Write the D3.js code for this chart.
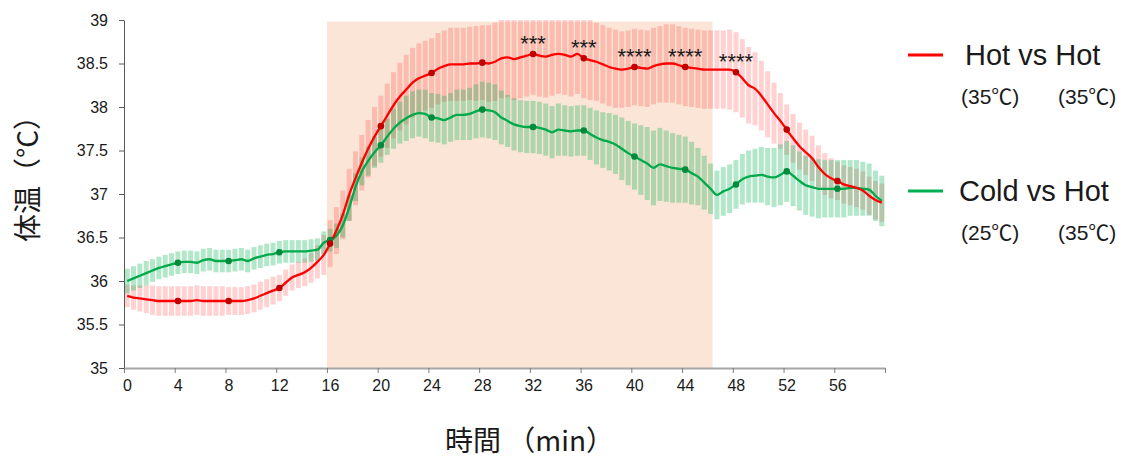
<!DOCTYPE html>
<html>
<head>
<meta charset="utf-8">
<script src="https://cdn.jsdelivr.net/npm/d3@7"></script>
<style>
  body { margin: 0; background: #fff; }
  svg text { font-family: "Liberation Sans", Arial, "Noto Sans CJK JP", sans-serif; fill: #1a1a1a; }
  .cjk { font-family: "Noto Sans CJK JP", "Liberation Sans", sans-serif; }
</style>
</head>
<body>
<svg id="chart"></svg>
<script>
// 30 s bins, first bin centred at 0.25 min
var binStart = 0.25;
var binStep = 0.5;

// Hot vs Hot (35°C / 35°C) mean body temperature, °C
var hotMean = [
    35.83, 35.81, 35.80, 35.79, 35.78, 35.77, 35.77, 35.77, 35.77, 35.77,
    35.77, 35.78, 35.77, 35.77, 35.77, 35.77, 35.77, 35.77, 35.77, 35.78,
    35.80, 35.83, 35.86, 35.89, 35.92, 35.98, 36.04, 36.07, 36.10, 36.15,
    36.22, 36.30, 36.43, 36.58, 36.76, 36.99, 37.18, 37.36, 37.52, 37.66,
    37.78, 37.90, 38.02, 38.12, 38.20, 38.28, 38.33, 38.36, 38.39, 38.44,
    38.47, 38.49, 38.49, 38.49, 38.50, 38.50, 38.51, 38.50, 38.52, 38.56,
    38.57, 38.55, 38.57, 38.59, 38.61, 38.59, 38.58, 38.60, 38.61, 38.60,
    38.58, 38.61, 38.56, 38.54, 38.52, 38.49, 38.46, 38.44, 38.43, 38.44,
    38.46, 38.45, 38.44, 38.47, 38.49, 38.50, 38.50, 38.48, 38.46, 38.45,
    38.44, 38.43, 38.43, 38.43, 38.43, 38.43, 38.40, 38.33, 38.25, 38.21,
    38.13, 38.03, 37.93, 37.84, 37.74, 37.64, 37.55, 37.48, 37.41, 37.31,
    37.23, 37.18, 37.15, 37.11, 37.09, 37.07, 37.04, 36.98, 36.93, 36.90
];
var hotErr = [
    0.13, 0.14, 0.15, 0.16, 0.17, 0.17, 0.17, 0.17, 0.17, 0.17,
    0.17, 0.17, 0.17, 0.17, 0.17, 0.17, 0.16, 0.16, 0.16, 0.16,
    0.16, 0.16, 0.16, 0.16, 0.15, 0.15, 0.15, 0.15, 0.16, 0.17,
    0.19, 0.23, 0.27, 0.27, 0.28, 0.30, 0.31, 0.32, 0.33, 0.34,
    0.35, 0.37, 0.38, 0.39, 0.40, 0.40, 0.40, 0.40, 0.40, 0.41,
    0.41, 0.42, 0.42, 0.42, 0.42, 0.43, 0.43, 0.44, 0.45, 0.46,
    0.46, 0.47, 0.47, 0.47, 0.47, 0.47, 0.47, 0.47, 0.46, 0.46,
    0.46, 0.46, 0.46, 0.46, 0.45, 0.45, 0.45, 0.45, 0.44, 0.44,
    0.44, 0.44, 0.44, 0.44, 0.44, 0.45, 0.45, 0.45, 0.45, 0.45,
    0.45, 0.45, 0.45, 0.45, 0.45, 0.46, 0.46, 0.45, 0.44, 0.42,
    0.40, 0.38, 0.35, 0.32, 0.29, 0.28, 0.27, 0.26, 0.26, 0.25,
    0.24, 0.23, 0.22, 0.22, 0.22, 0.22, 0.22, 0.22, 0.22, 0.22
];

// Cold vs Hot (25°C / 35°C)
var coldMean = [
    36.00, 36.03, 36.06, 36.09, 36.12, 36.15, 36.17, 36.19, 36.21, 36.22,
    36.22, 36.21, 36.24, 36.25, 36.23, 36.23, 36.23, 36.24, 36.25, 36.23,
    36.26, 36.28, 36.30, 36.31, 36.33, 36.34, 36.34, 36.34, 36.34, 36.35,
    36.36, 36.44, 36.47, 36.52, 36.64, 36.84, 37.08, 37.26, 37.38, 37.48,
    37.56, 37.66, 37.75, 37.82, 37.87, 37.91, 37.93, 37.92, 37.88, 37.87,
    37.85, 37.88, 37.91, 37.91, 37.92, 37.95, 37.97, 37.96, 37.94, 37.88,
    37.84, 37.80, 37.78, 37.77, 37.77, 37.76, 37.74, 37.71, 37.74, 37.73,
    37.72, 37.73, 37.73, 37.69, 37.65, 37.62, 37.60, 37.57, 37.52, 37.47,
    37.43, 37.39, 37.35, 37.30, 37.34, 37.32, 37.30, 37.29, 37.28, 37.24,
    37.20, 37.13, 37.06, 36.99, 37.03, 37.06, 37.11, 37.17, 37.20, 37.21,
    37.22, 37.20, 37.19, 37.22, 37.26, 37.21, 37.15, 37.10, 37.08, 37.06,
    37.06, 37.06, 37.06, 37.06, 37.07, 37.07, 37.06, 37.05, 36.98, 36.92
];
var coldErr = [
    0.14, 0.14, 0.14, 0.14, 0.13, 0.13, 0.13, 0.13, 0.13, 0.13,
    0.13, 0.13, 0.13, 0.13, 0.13, 0.13, 0.13, 0.13, 0.13, 0.13,
    0.13, 0.13, 0.13, 0.13, 0.13, 0.13, 0.13, 0.13, 0.13, 0.13,
    0.13, 0.13, 0.13, 0.14, 0.14, 0.15, 0.16, 0.16, 0.17, 0.18,
    0.20, 0.21, 0.23, 0.24, 0.26, 0.27, 0.27, 0.28, 0.28, 0.28,
    0.28, 0.28, 0.29, 0.29, 0.30, 0.31, 0.32, 0.32, 0.32, 0.31,
    0.30, 0.30, 0.30, 0.30, 0.30, 0.30, 0.30, 0.30, 0.30, 0.29,
    0.29, 0.29, 0.29, 0.30, 0.31, 0.32, 0.33, 0.34, 0.36, 0.37,
    0.38, 0.40, 0.42, 0.43, 0.42, 0.41, 0.40, 0.39, 0.38, 0.36,
    0.33, 0.31, 0.29, 0.28, 0.28, 0.28, 0.28, 0.29, 0.30, 0.31,
    0.32, 0.33, 0.34, 0.35, 0.35, 0.35, 0.34, 0.34, 0.34, 0.34,
    0.33, 0.33, 0.33, 0.33, 0.32, 0.32, 0.31, 0.30, 0.29, 0.29
];

// shaded heating period, minutes
var shadeFrom = 16;
var shadeTo = 46.4;

// significance marks (time of marked bin, label)
var starTimes = [32.25, 36.25, 40.25, 44.25, 48.25];
var starLabels = ["***", "***", "****", "****", "****"];

var xTicks = [0, 4, 8, 12, 16, 20, 24, 28, 32, 36, 40, 44, 48, 52, 56, 60];
var yTicks = [35, 35.5, 36, 36.5, 37, 37.5, 38, 38.5, 39];

var legendItems = [
    { name: "Hot vs Hot", sub: ["(35\u2103)", "(35\u2103)"], color: "#ff0000" },
    { name: "Cold vs Hot", sub: ["(25\u2103)", "(35\u2103)"], color: "#00b050" }
];

var width = 1129;
var height = 459;

var svg = d3.select('#chart').attr('width', width).attr('height', height);

var x = d3.scaleLinear().domain([0, 60]).range([124, 885]);
var y = d3.scaleLinear().domain([35, 39]).range([368, 20]).clamp(true);

function binTime(i) {
    return binStart + i * binStep;
}

// shaded background
svg.append('rect')
    .attr('x', x(shadeFrom))
    .attr('y', y(38.98))
    .attr('width', x(shadeTo) - x(shadeFrom))
    .attr('height', y(35) - y(38.98))
    .attr('fill', '#fbe5d6');

function drawBars(mean, err, color, opacity) {
    svg.append('g').selectAll('rect')
        .data(mean)
        .enter()
        .append('rect')
        .attr('x', function(d, i) { return x(binTime(i)) - 2.5; })
        .attr('y', function(d, i) { return y(d + err[i]); })
        .attr('width', 5)
        .attr('height', function(d, i) { return y(d - err[i]) - y(d + err[i]); })
        .attr('fill', color)
        .attr('fill-opacity', opacity);
}

drawBars(hotMean, hotErr, '#ff0000', 0.18);
drawBars(coldMean, coldErr, '#00b050', 0.3);

// axes
var yAxis = d3.axisLeft(y).tickValues(yTicks).tickSize(5).tickSizeOuter(0).tickPadding(11)
    .tickFormat(function(d) { return d3.format('')(d); });
var yg = svg.append('g').attr('transform', 'translate(124,0)').call(yAxis);
yg.select('.domain').attr('stroke', '#595959');
yg.selectAll('.tick line').attr('stroke', '#595959');
yg.selectAll('text').style('font-size', '16px').attr('fill', '#1a1a1a');

var xAxis = d3.axisBottom(x).tickValues(xTicks).tickSize(5).tickSizeOuter(0).tickPadding(7)
    .tickFormat(function(d) { return d === 60 ? '' : d; });
var xg = svg.append('g').attr('transform', 'translate(0,368)').call(xAxis);
xg.select('.domain').attr('stroke', '#a6a6a6').attr('stroke-width', 2);
xg.selectAll('.tick line').attr('stroke', '#7f7f7f');
xg.selectAll('text').style('font-size', '16px').attr('dx', 3).attr('fill', '#1a1a1a');

// mean lines
var line = function(mean) {
    return d3.line()
        .x(function(d, i) { return x(binTime(i)); })
        .y(function(d) { return y(d); })
        .curve(d3.curveMonotoneX)(mean);
};

svg.append('path').attr('d', line(coldMean))
    .attr('fill', 'none').attr('stroke', '#00a94a').attr('stroke-width', 2.3);
svg.append('path').attr('d', line(hotMean))
    .attr('fill', 'none').attr('stroke', '#ff0000').attr('stroke-width', 2.3);

// markers every 4 min
function drawMarkers(mean, color) {
    var idx = d3.range(8, mean.length, 8);
    svg.append('g').selectAll('circle')
        .data(idx)
        .enter()
        .append('circle')
        .attr('cx', function(i) { return x(binTime(i)); })
        .attr('cy', function(i) { return y(mean[i]); })
        .attr('r', 3.3)
        .attr('fill', color);
}
drawMarkers(coldMean, '#008a3c');
drawMarkers(hotMean, '#c00000');

// significance stars above the hot line
svg.append('g').selectAll('text')
    .data(starTimes)
    .enter()
    .append('text')
    .attr('x', function(t) { return x(t); })
    .attr('y', function(t) { return y(hotMean[(t - binStart) / binStep]) - 3; })
    .attr('text-anchor', 'middle')
    .style('font-size', '22px')
    .text(function(t, i) { return starLabels[i]; });

// axis titles
svg.append('text')
    .attr('class', 'cjk')
    .attr('transform', 'translate(38,172) rotate(-90)')
    .attr('text-anchor', 'middle')
    .style('font-size', '28px')
    .text('体温（°C）');

svg.append('text')
    .attr('class', 'cjk')
    .attr('x', 445)
    .attr('y', 451)
    .style('font-size', '28px')
    .text('時間 （min）');

// legend
var legend = svg.append('g').selectAll('g')
    .data(legendItems)
    .enter()
    .append('g')
    .attr('transform', function(d, i) { return 'translate(0,' + (i * 136) + ')'; });

legend.append('line')
    .attr('x1', 908).attr('x2', 943)
    .attr('y1', 55).attr('y2', 55)
    .attr('stroke', function(d) { return d.color; })
    .attr('stroke-width', 3);

legend.append('text')
    .attr('x', function(d, i) { return i === 0 ? 965 : 959; })
    .attr('y', 65)
    .style('font-size', '29px')
    .text(function(d) { return d.name; });

legend.append('text')
    .attr('x', 961)
    .attr('y', 104)
    .style('font-size', '21px')
    .text(function(d) { return d.sub[0]; });

legend.append('text')
    .attr('x', 1058)
    .attr('y', 104)
    .style('font-size', '21px')
    .text(function(d) { return d.sub[1]; });
</script>
</body>
</html>
